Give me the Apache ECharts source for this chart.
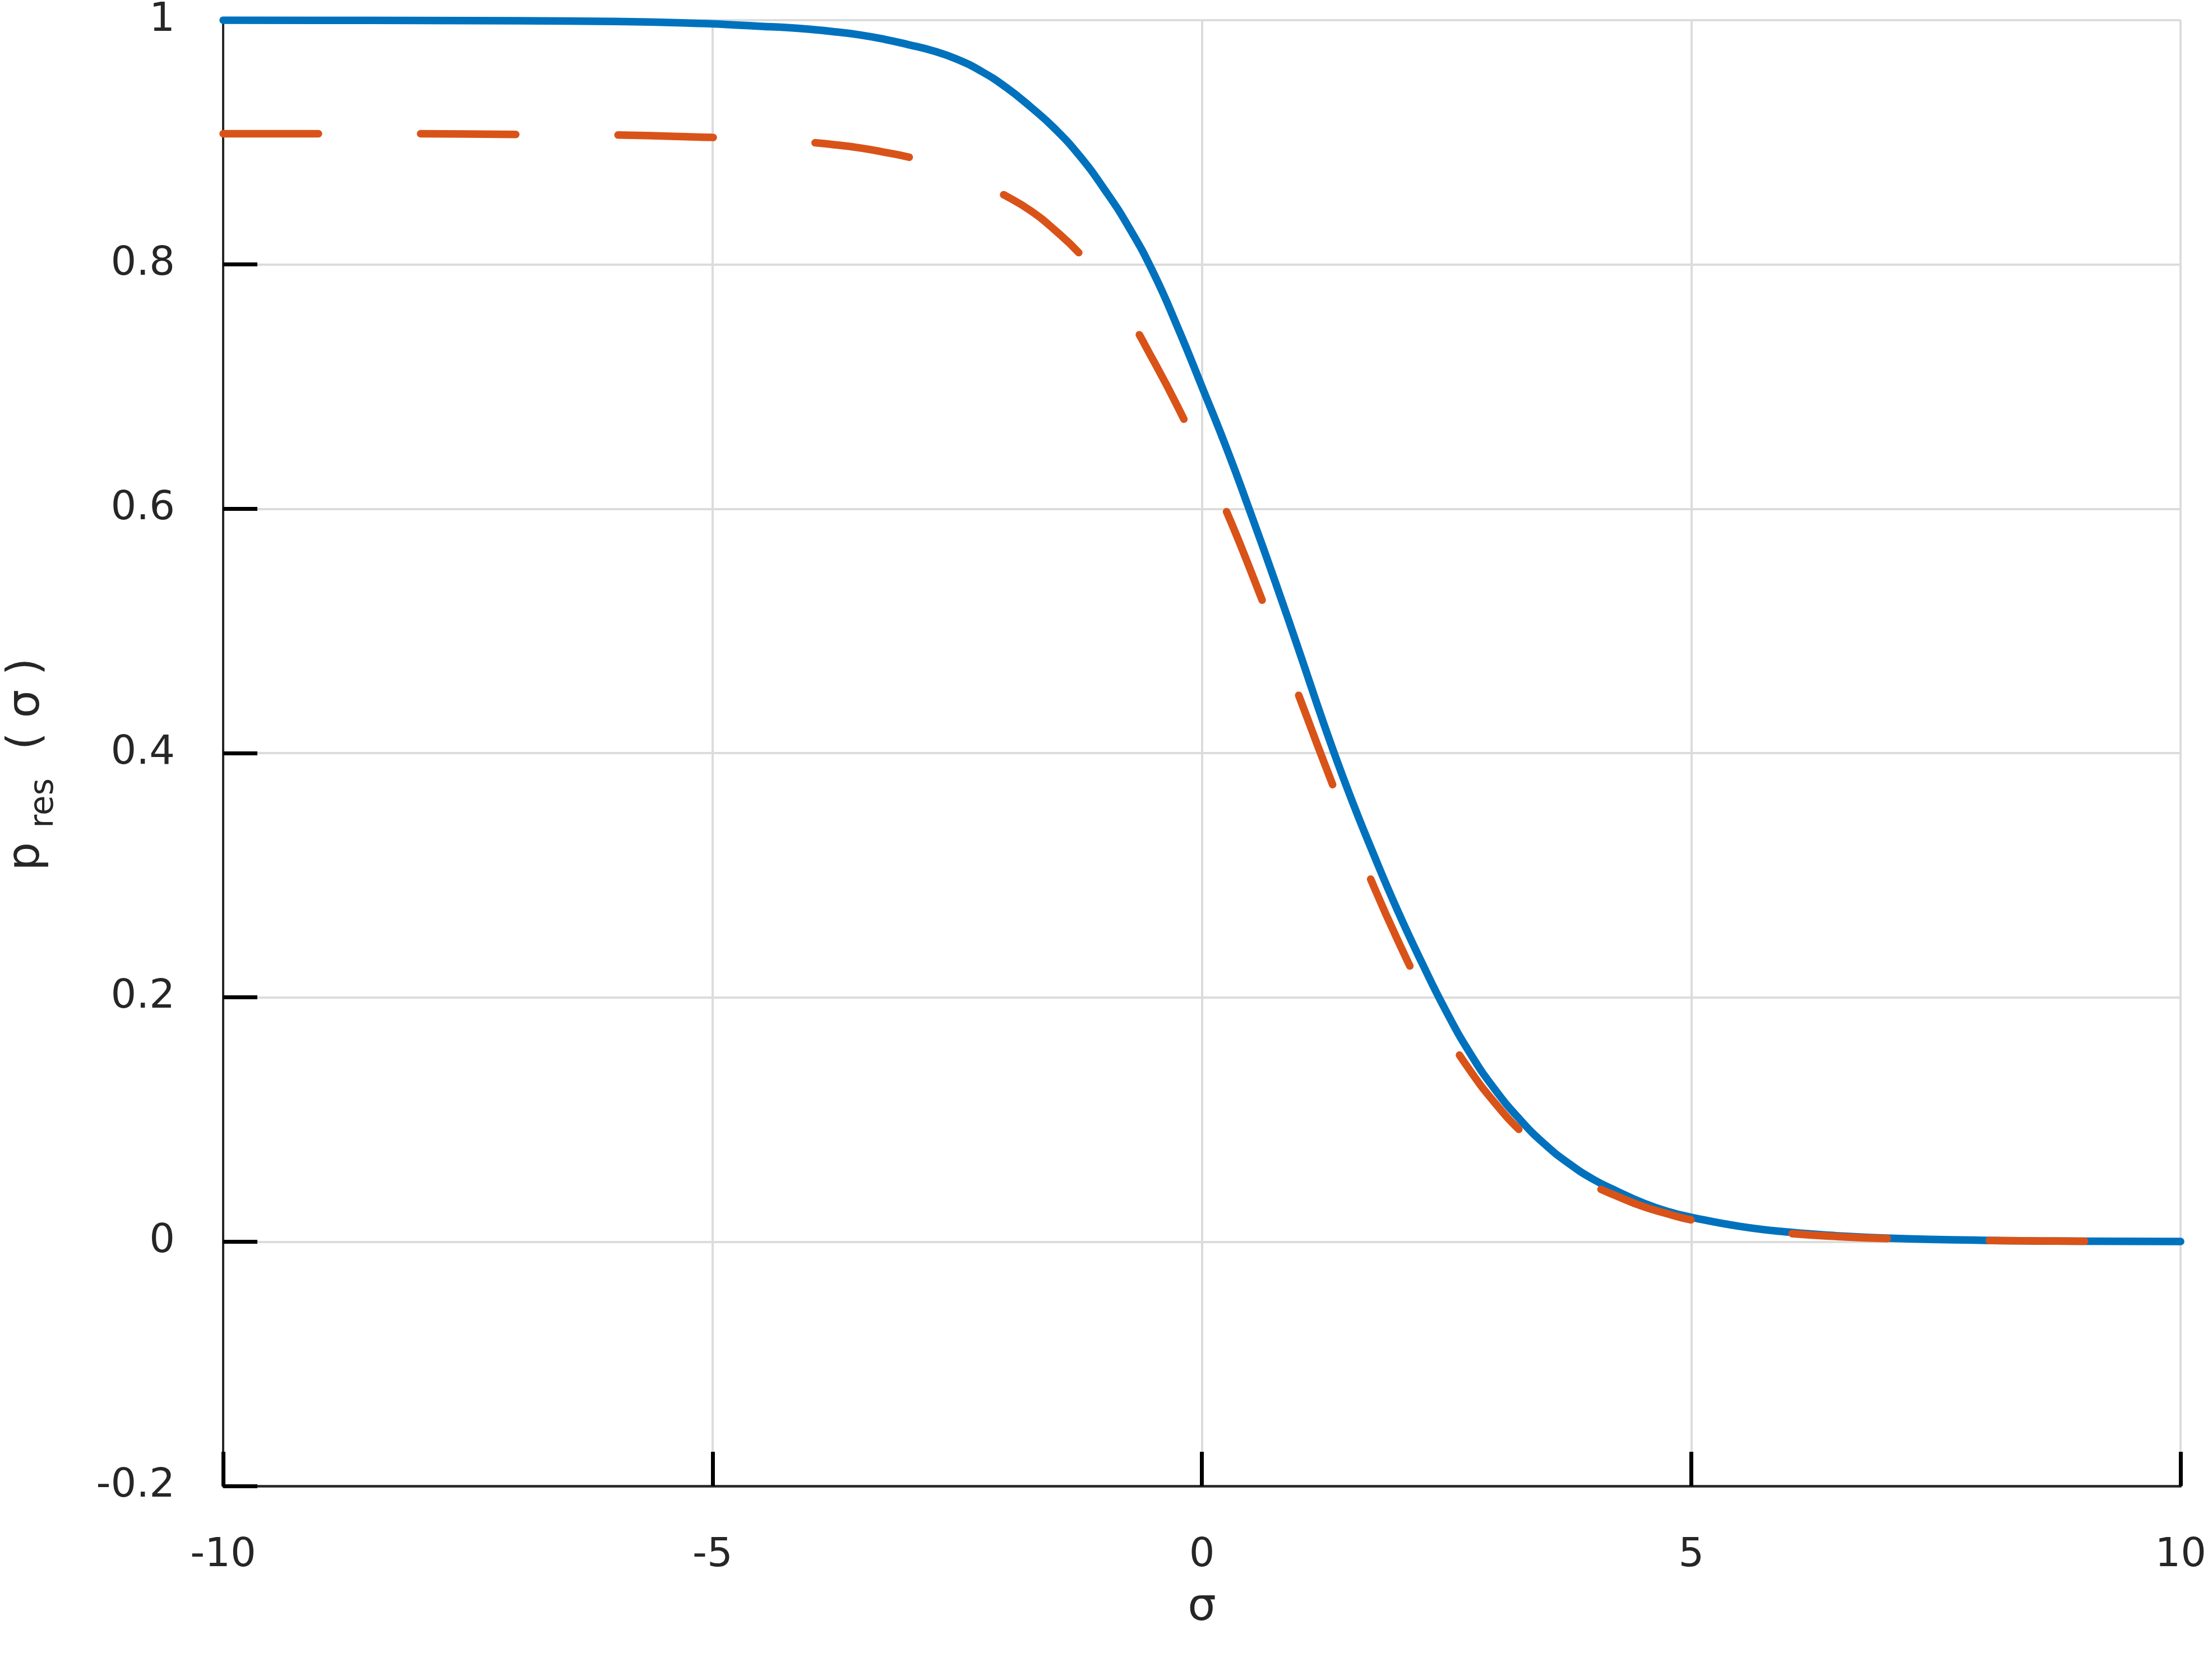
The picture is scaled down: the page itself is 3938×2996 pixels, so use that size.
<!DOCTYPE html>
<html>
<head>
<meta charset="utf-8">
<script src="https://cdn.jsdelivr.net/npm/echarts@6/dist/echarts.min.js"></script>
<style>
    html, body { margin: 0; padding: 0; background: #fff; }
    #chart { width: 3938px; height: 2996px; }
</style>
</head>
<body>
<div id="chart"></div>
<script>
// 横轴 σ 取样点 (-5..5 每 0.25 一个点)
var sigma = [-10, -9, -8, -7, -6,
    -5, -4.75, -4.5, -4.25, -4, -3.75, -3.5, -3.25, -3, -2.75,
    -2.5, -2.25, -2, -1.75, -1.5, -1.25, -1, -0.75, -0.5, -0.25,
    0, 0.25, 0.5, 0.75, 1, 1.25, 1.5, 1.75, 2, 2.25,
    2.5, 2.75, 3, 3.25, 3.5, 3.75, 4, 4.25, 4.5, 4.75, 5,
    5.5, 6, 6.5, 7, 8, 9, 10];
// 实线 (蓝)
var pSolid = [1.000, 0.9999, 0.9998, 0.9995, 0.999,
    0.997, 0.996, 0.995, 0.994, 0.9925, 0.9905, 0.988, 0.9845, 0.980, 0.975,
    0.968, 0.958, 0.945, 0.929, 0.911, 0.889, 0.862, 0.831, 0.794, 0.749,
    0.700, 0.650, 0.596, 0.540, 0.482, 0.423, 0.368, 0.318, 0.271, 0.228,
    0.188, 0.153, 0.124, 0.100, 0.080, 0.064, 0.051, 0.041, 0.032, 0.025, 0.020,
    0.0125, 0.0078, 0.0048, 0.0029, 0.0011, 0.0004, 0.0002];
// 虚线 (橙)
var pDashed = [0.907, 0.907, 0.907, 0.9065, 0.906,
    0.904, 0.9033, 0.9025, 0.9015, 0.900, 0.898, 0.8955, 0.892, 0.888, 0.882,
    0.875, 0.866, 0.856, 0.844, 0.828, 0.809, 0.785, 0.757, 0.722, 0.684,
    0.642, 0.598, 0.549, 0.497, 0.445, 0.392, 0.341, 0.292, 0.247, 0.206,
    0.170, 0.139, 0.113, 0.091, 0.073, 0.058, 0.046, 0.037, 0.029, 0.023, 0.0178,
    0.011, 0.0068, 0.0042, 0.0026, 0.001, 0.0004, 0.0002];

var xTicks = [-10, 5];   // min, interval
var yTicks = [-0.2, 0.2]; // min, interval

function pairs(xs, ys) {
    var out = [];
    for (var i = 0; i < xs.length; i++) {
        out.push([xs[i], ys[i]]);
    }
    return out;
}

var font = 'DejaVu Sans';
var ink = '#262626';

var chart = echarts.init(document.getElementById('chart'), null, { renderer: 'canvas' });
var option = {
    animation: false,
    backgroundColor: '#ffffff',
    grid: { left: 390, right: 35, top: 31, bottom: 346, containLabel: false },
    xAxis: {
        type: 'value',
        min: xTicks[0],
        max: 10,
        interval: xTicks[1],
        name: 'σ',
        nameLocation: 'middle',
        nameGap: 178,
        nameTextStyle: { fontFamily: font, fontSize: 80, color: ink },
        axisLine: { onZero: false, lineStyle: { color: ink, width: 4.5 } },
        axisTick: { inside: true, length: 61, lineStyle: { color: '#000', width: 7 } },
        axisLabel: { margin: 88, fontFamily: font, fontSize: 72, color: ink },
        splitLine: { show: true, lineStyle: { color: '#dcdcdc', width: 4 } }
    },
    yAxis: {
        type: 'value',
        min: yTicks[0],
        max: 1,
        interval: yTicks[1],
        name: '{p|p }{s|res}{n|  ( σ )}',
        nameLocation: 'middle',
        nameRotate: 90,
        nameGap: 290,
        nameTextStyle: {
            fontFamily: font, color: ink,
            padding: [0, 40, 0, 0],
            rich: {
                p: { fontFamily: font, fontSize: 80, color: ink },
                s: { fontFamily: font, fontSize: 58, color: ink, padding: [62, 0, 0, 0] },
                n: { fontFamily: font, fontSize: 80, color: ink }
            }
        },
        axisLine: { onZero: false, lineStyle: { color: ink, width: 4 } },
        axisTick: { inside: true, length: 61, lineStyle: { color: '#000', width: 7 } },
        axisLabel: { margin: 86, fontFamily: font, fontSize: 72, color: ink },
        splitLine: { show: true, lineStyle: { color: '#dcdcdc', width: 4 } }
    },
    series: [{
        type: 'line',
        data: pairs(sigma, pSolid),
        showSymbol: false,
        smooth: 0.5,
        lineStyle: { color: '#0072BD', width: 13.5, cap: 'round', join: 'round' }
    }, {
        type: 'line',
        data: pairs(sigma, pDashed),
        showSymbol: false,
        smooth: 0.5,
        lineStyle: { color: '#D95319', width: 13.5, type: [170, 182], cap: 'round', join: 'round' }
    }]
};
chart.setOption(option);
</script>
</body>
</html>
